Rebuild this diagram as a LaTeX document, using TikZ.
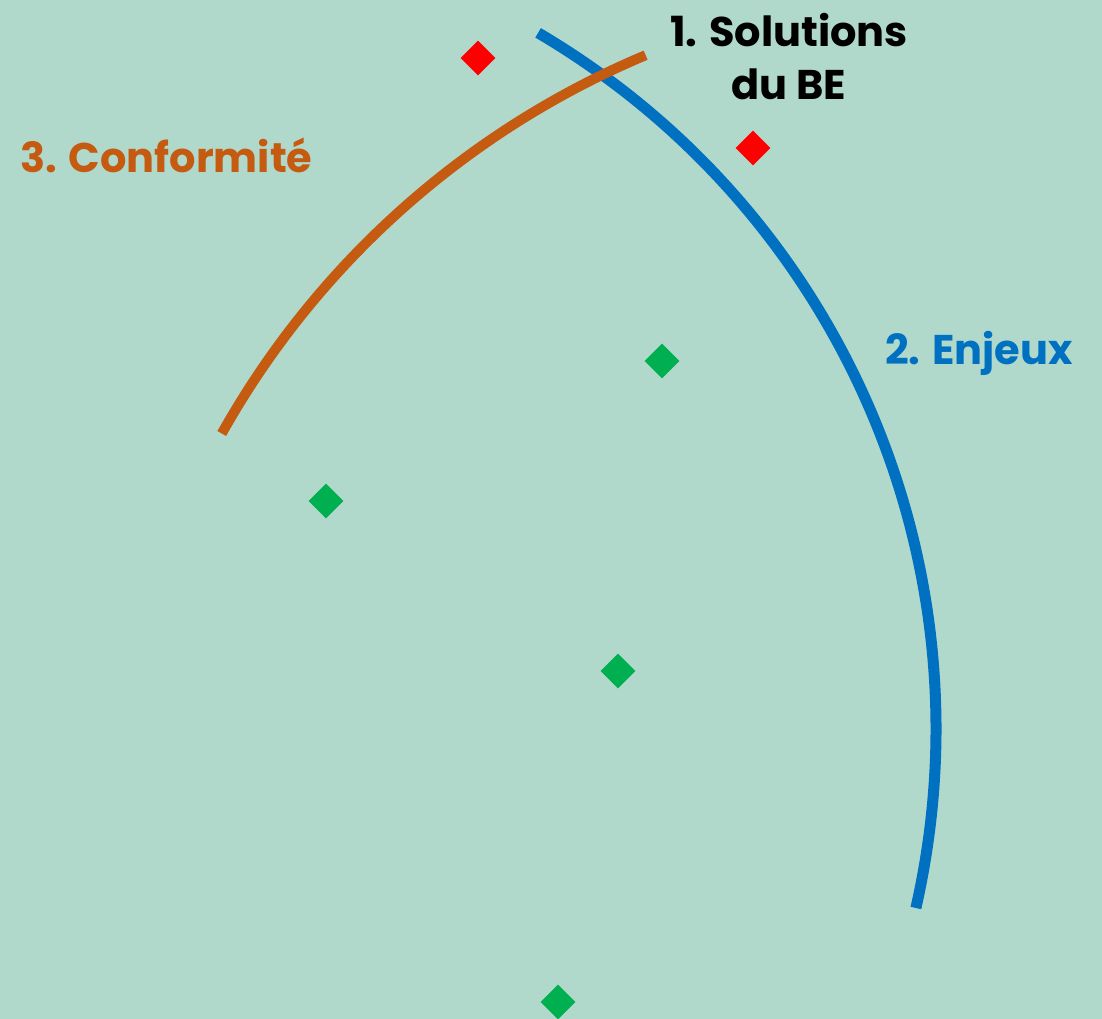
\documentclass[tikz,border=0pt]{standalone}
\usepackage{fontspec}
\setmainfont{Poppins}
\usetikzlibrary{shapes.geometric}
\definecolor{bgteal}{RGB}{176,217,204}
\definecolor{arcblue}{RGB}{0,112,192}
\definecolor{arcorange}{RGB}{197,90,17}
\definecolor{markred}{RGB}{255,0,0}
\definecolor{markgreen}{RGB}{0,176,80}
\begin{document}
\begin{tikzpicture}[x=1pt,y=1pt,
  marker/.style={shape=diamond,draw=none,minimum width=35pt,minimum height=35pt,inner sep=0pt},
  redmark/.style={marker,fill=markred},
  greenmark/.style={marker,fill=markgreen},
  label/.style={font=\fontsize{41.5}{54}\selectfont\bfseries,inner sep=0pt},
  arcline/.style={line width=11pt}]
  \useasboundingbox (0,0) rectangle (1102,-1019);
  \fill[bgteal] (0,0) rectangle (1102,-1019);

  % the two arcs
  \draw[arcline,arcblue] (128,-729) ++(59.5:808pt)
     arc[start angle=59.5,end angle=-12.8,radius=808pt];
  \draw[arcline,arcorange,line width=10pt] (984.6,-861.6) ++(150.7:874.8pt)
     arc[start angle=150.7,end angle=112.8,radius=874.8pt];

  % markers
  \node[redmark] (r1) at (478,-58) {};
  \node[redmark] (r2) at (753,-148) {};
  \node[greenmark] (g1) at (662,-361) {};
  \node[greenmark] (g2) at (326,-501) {};
  \node[greenmark] (g3) at (618,-671) {};
  \node[greenmark] (g4) at (558,-1002) {};

  % labels
  \node[label,anchor=base] (sol) at (789,-47) {1. Solutions};
  \node[label,anchor=base] (du) at (789,-100) {du BE};
  \node[label,anchor=base west,text=arcorange] (conf) at (20,-173) {3. Conformité};
  \node[label,anchor=base west,text=arcblue] (enj) at (885,-364) {2. Enjeux};
\end{tikzpicture}
\end{document}
